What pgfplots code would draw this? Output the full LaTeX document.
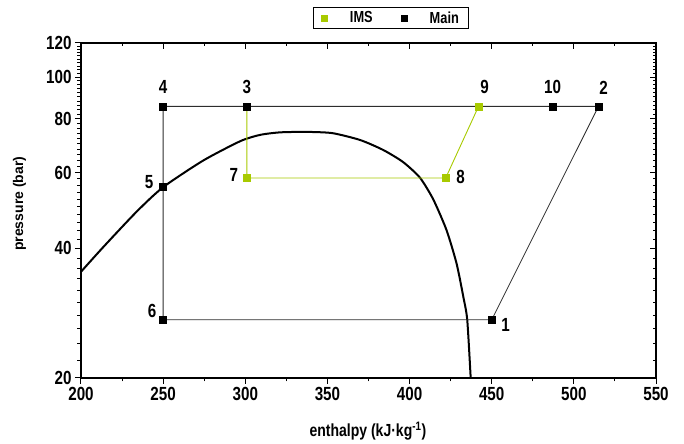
\documentclass[border=0pt]{standalone}
\usepackage{fontspec}
\setmainfont{Liberation Sans}[FakeStretch=0.8]
\newfontfamily\ylabfont{Liberation Sans}
\usepackage{pgfplots}
\pgfplotsset{compat=1.18}
\definecolor{imsgreen}{RGB}{168,202,0}
\definecolor{cyc}{RGB}{45,45,45}

\begin{document}
\begin{tikzpicture}
\begin{axis}[name=ax, ymode=log,
  scale only axis, width=575pt, height=335pt,
  xmin=200, xmax=550, ymin=20, ymax=120,
  xtick={200,250,...,550}, minor xtick={225,275,...,525},
  ytick={20,40,60,80,100,120}, minor ytick={22,24,...,118},
  axis line style={line width=1.3pt},
  major tick length=6pt, minor tick length=3.5pt,
  every tick/.style={line width=1pt, black},
  every minor tick/.style={line width=0.9pt, black},
  xtick pos=bottom, ytick pos=left, tick align=outside,
  yticklabels={20,40,60,80,100,120},
  /pgf/number format/assume math mode=true,
  tick label style={font=\bfseries\fontsize{19}{19}\selectfont},
  xlabel={\bfseries enthalpy (kJ·kg\textsuperscript{-1})},
  xlabel style={font=\fontsize{17.5}{17.5}\selectfont,
    at={(axis description cs:0.499,-0.158)}, anchor=center},
  ylabel={\ylabfont\bfseries pressure (bar)},
  ylabel style={font=\fontsize{14}{14}\selectfont,
    at={(axis description cs:-0.107,0.52)}, anchor=center},
  legend style={at={(0.539,1)}, anchor=south, yshift=14pt,
    legend columns=2, draw=black, line width=0.8pt,
    font=\bfseries\fontsize{16}{16}\selectfont,
    inner ysep=2pt, inner xsep=8pt,
    /tikz/every even column/.append style={column sep=26pt}},
  legend cell align=left,
]
\addlegendimage{imsgreen, legend image code/.code={
  \path[draw=none, fill=none] (0pt,-4pt) rectangle (27pt,4pt);
  \fill[imsgreen] (0.5pt,-3pt) rectangle (6.5pt,3pt);}}
\addlegendentry{IMS}
\addlegendimage{black, legend image code/.code={
  \path[draw=none, fill=none] (0pt,-4pt) rectangle (27pt,4pt);
  \fill[black] (0.5pt,-3pt) rectangle (6.5pt,3pt);}}
\addlegendentry{Main\hspace{9pt}}

% saturation dome
\addplot[black, line width=2pt, smooth, tension=0.4, forget plot] coordinates {
 (200,35.3) (213.6,40.3) (233.9,48.7) (250,55.5) (274.4,64.0) (297,71.0)
 (309,73.4) (321,74.4) (337,74.6) (353,74.1) (370,71.4) (384,67.7)
 (396,63.5) (406.3,58.4) (414.4,52.0) (422.5,44.1) (428.6,36.9)
 (432.7,30.9) (435.1,27.3) (437.2,20)
};

% main cycle
\addplot[cyc, line width=0.8pt, forget plot] coordinates {
 (450,27.3) (515,85.5) (487,85.5) (442,85.5) (301,85.5) (250,85.5)
 (250,55.5) (250,27.3) (450,27.3)
};

% intermediate stage
\addplot[imsgreen, line width=0.9pt, forget plot] coordinates {
 (301,85.5) (301,58.3) (422,58.3) (442,85.5)
};
\addplot[only marks, mark=square*, mark size=3.5pt, imsgreen, forget plot] coordinates {
 (301,58.3) (422,58.3) (442,85.5)
};
\addplot[only marks, mark=square*, mark size=3.5pt, black, forget plot] coordinates {
 (450,27.3) (515,85.5) (487,85.5) (301,85.5) (250,85.5) (250,55.5) (250,27.3)
};

\node[font=\bfseries\fontsize{19}{19}\selectfont, xshift=14pt, yshift=-5pt] at (axis cs:450,27.3) {1};
\node[font=\bfseries\fontsize{19}{19}\selectfont, xshift=5pt, yshift=19pt] at (axis cs:515,85.5) {2};
\node[font=\bfseries\fontsize{19}{19}\selectfont, yshift=19pt] at (axis cs:301,85.5) {3};
\node[font=\bfseries\fontsize{19}{19}\selectfont, yshift=19pt] at (axis cs:250,85.5) {4};
\node[font=\bfseries\fontsize{19}{19}\selectfont, xshift=-14pt, yshift=5pt] at (axis cs:250,55.5) {5};
\node[font=\bfseries\fontsize{19}{19}\selectfont, xshift=-11pt, yshift=9pt] at (axis cs:250,27.3) {6};
\node[font=\bfseries\fontsize{19}{19}\selectfont, xshift=-13pt, yshift=3pt] at (axis cs:301,58.3) {7};
\node[font=\bfseries\fontsize{19}{19}\selectfont, xshift=15pt, yshift=1pt] at (axis cs:422,58.3) {8};
\node[font=\bfseries\fontsize{19}{19}\selectfont, xshift=6pt, yshift=19pt] at (axis cs:442,85.5) {9};
\node[font=\bfseries\fontsize{19}{19}\selectfont, yshift=19pt] at (axis cs:487,85.5) {10};
\end{axis}

% top and right ticks, pointing inward
\begin{axis}[ymode=log,
  scale only axis, width=575pt, height=335pt,
  xmin=200, xmax=550, ymin=20, ymax=120,
  xtick={200,250,...,550}, minor xtick={225,275,...,525},
  ytick={20,40,60,80,100,120}, minor ytick={22,24,...,118},
  axis line style={line width=1.3pt},
  major tick length=6pt, minor tick length=3.5pt,
  every tick/.style={line width=1pt, black},
  every minor tick/.style={line width=0.9pt, black},
  xtick pos=top, ytick pos=right, tick align=inside,
  xticklabels={}, yticklabels={},
]
\end{axis}

\path ([xshift=-81pt, yshift=-62pt]ax.south west) rectangle ([xshift=28pt, yshift=43pt]ax.north east);
\end{tikzpicture}
\end{document}
